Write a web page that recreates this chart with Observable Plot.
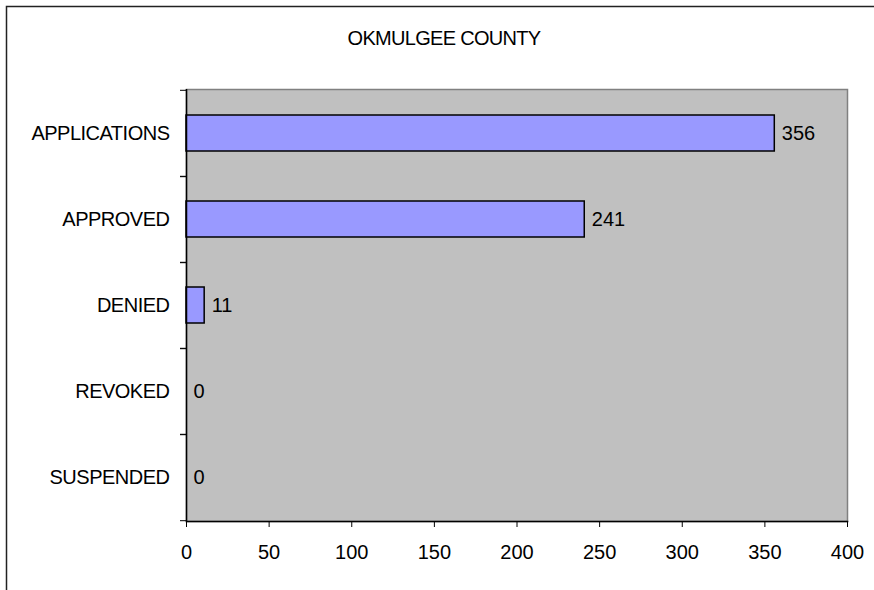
<!DOCTYPE html>
<html>
<head>
<meta charset="utf-8">
<script src="https://cdn.jsdelivr.net/npm/d3@7"></script>
<script src="https://cdn.jsdelivr.net/npm/@observablehq/plot@0.6"></script>
<style>
  html, body { margin: 0; padding: 0; background: white; }
  #chart { position: relative; width: 874px; height: 590px; overflow: hidden; }
  g[aria-label="y-axis tick label"] text { letter-spacing: -0.5px; }
</style>
</head>
<body>
<div id="chart"></div>
<script>
const title = "OKMULGEE COUNTY";
const categories = ["APPLICATIONS", "APPROVED", "DENIED", "REVOKED", "SUSPENDED"];
const counts = [356, 241, 11, 0, 0];
const xTicks = [0, 50, 100, 150, 200, 250, 300, 350, 400];

const data = categories.map((c, i) => ({category: c, count: counts[i]}));

const W = 874, H = 590, mt = 89, mb = 69, ml = 186, mr = 27;
const step = (H - mt - mb) / categories.length;

const svg = Plot.plot({
  width: W,
  height: H,
  marginTop: mt,
  marginBottom: mb,
  marginLeft: ml,
  marginRight: mr,
  style: {fontFamily: "'Liberation Sans', Arial, sans-serif", fontSize: "20px", color: "black", background: "white"},
  x: {domain: [0, 400], ticks: xTicks},
  y: {domain: categories, paddingInner: 0.58, paddingOuter: 0.29},
  marks: [
    Plot.frame({fill: "#c0c0c0", stroke: "#808080", strokeWidth: 1.5}),
    Plot.barX(data, {x: "count", y: "category", fill: "#9999ff", stroke: "black", strokeWidth: 1.5}),
    Plot.text(data, {x: "count", y: "category", text: d => String(d.count), textAnchor: "start", dx: 7, fill: "black"}),
    Plot.ruleX([0], {stroke: "black", strokeWidth: 1.5}),
    Plot.frame({anchor: "bottom", stroke: "black", strokeWidth: 1.5}),
    Plot.axisX({ticks: xTicks, tickSize: 6, tickPadding: 17, label: null}),
    Plot.axisY({tickSize: 0, tickPadding: 17, label: null}),
    Plot.axisY({tickSize: 6, text: null, label: null, dy: -step / 2}),
    Plot.axisY({tickSize: 6, text: null, label: null, dy: step / 2})
  ]
});

const root = d3.select(svg);
root.append("path")
  .attr("d", `M6.5,${H} V6.5 H${W}`)
  .attr("fill", "none")
  .attr("stroke", "#222")
  .attr("stroke-width", 1.5);
root.append("text")
  .attr("x", 444)
  .attr("y", 45)
  .attr("text-anchor", "middle")
  .attr("fill", "black")
  .style("font-size", "20px")
  .style("letter-spacing", "-0.7px")
  .text(title);

document.getElementById("chart").appendChild(svg);
</script>
</body>
</html>
